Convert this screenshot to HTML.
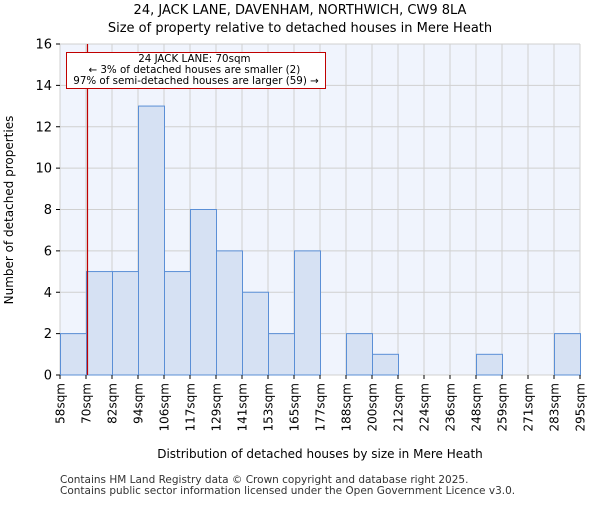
<!DOCTYPE html>
<html><head><meta charset="utf-8"><style>
body{margin:0;background:#fff;font-family:"Liberation Sans","DejaVu Sans",sans-serif}
</style></head><body>
<svg width="600" height="500" xmlns="http://www.w3.org/2000/svg" font-family="DejaVu Sans, Liberation Sans, sans-serif">
<text x="300" y="14" text-anchor="middle" font-size="13">24, JACK LANE, DAVENHAM, NORTHWICH, CW9 8LA</text>
<text x="300" y="32" text-anchor="middle" font-size="13">Size of property relative to detached houses in Mere Heath</text>
<rect x="60" y="44" width="520" height="331" fill="#f0f4fd"/>
<g id="grid"></g>
<g id="bars"></g>
<g id="axes"></g>
<line x1="87.5" y1="44" x2="87.5" y2="375" stroke="#c00000" stroke-width="1.2"/>
<rect x="66.5" y="52.5" width="259" height="36" fill="#fff" stroke="#c00000" stroke-width="1"/>
<text font-size="10.3" text-anchor="middle">
<tspan x="196" y="62">24 JACK LANE: 70sqm</tspan>
<tspan x="196" y="73">← 3% of detached houses are smaller (2)</tspan>
<tspan x="196" y="84">97% of semi-detached houses are larger (59) →</tspan>
</text>
<text transform="translate(13,210) rotate(-90)" text-anchor="middle" font-size="12">Number of detached properties</text>
<text x="320" y="458" text-anchor="middle" font-size="12">Distribution of detached houses by size in Mere Heath</text>
<text font-size="10.5" fill="#333"><tspan x="60" y="483">Contains HM Land Registry data © Crown copyright and database right 2025.</tspan><tspan x="60" y="494">Contains public sector information licensed under the Open Government Licence v3.0.</tspan></text>
</svg>
<script>
const xLabels=["58sqm","70sqm","82sqm","94sqm","106sqm","117sqm","129sqm","141sqm","153sqm","165sqm","177sqm","188sqm","200sqm","212sqm","224sqm","236sqm","248sqm","259sqm","271sqm","283sqm","295sqm"];
const counts=[2,5,5,13,5,8,6,4,2,6,0,2,1,0,0,0,1,0,0,2];
const yTicks=[0,2,4,6,8,10,12,14,16];
const NS="http://www.w3.org/2000/svg";
const L=60,R=580,T=44,B=375,yMax=16;
const bw=(R-L)/counts.length;
const xs=i=>L+i*bw;
const ys=v=>B-(v/yMax)*(B-T);
function mk(tag,attrs,parent){const e=document.createElementNS(NS,tag);for(const k in attrs)e.setAttribute(k,attrs[k]);document.getElementById(parent).appendChild(e);return e;}
yTicks.forEach(t=>{
 const g=mk('line',{x1:L,x2:R,y1:ys(t),y2:ys(t),stroke:'#d0d0d0','stroke-width':1},'grid');
 
 
 const tk=mk('line',{x1:L-4,x2:L,y1:ys(t),y2:ys(t),stroke:'#000'},'axes');
 
 
 const tx=mk('text',{x:L-8,y:ys(t)+4.5,'text-anchor':'end','font-size':13},'axes');
 tx.textContent=t;
 
 
});
xLabels.forEach((lab,i)=>{
 const x=xs(i);
 const g=mk('line',{x1:x,x2:x,y1:T,y2:B,stroke:'#d0d0d0','stroke-width':1},'grid');
 
 
 const tk=mk('line',{x1:x,x2:x,y1:B,y2:B+4,stroke:'#000'},'axes');
 
 
 const tx=mk('text',{transform:`translate(${x+4.5},${B+8}) rotate(-90)`,'text-anchor':'end','font-size':12},'axes');
 tx.textContent=lab;
 
 
});
counts.forEach((c,i)=>{
 if(c<=0)return;
 const r=mk('rect',{x:xs(i)+0.5,y:ys(c),width:bw,height:B-ys(c),fill:'#d6e1f3',stroke:'#5b8fd6','stroke-width':1},'bars');
 
 
});
</script>
</body></html>
